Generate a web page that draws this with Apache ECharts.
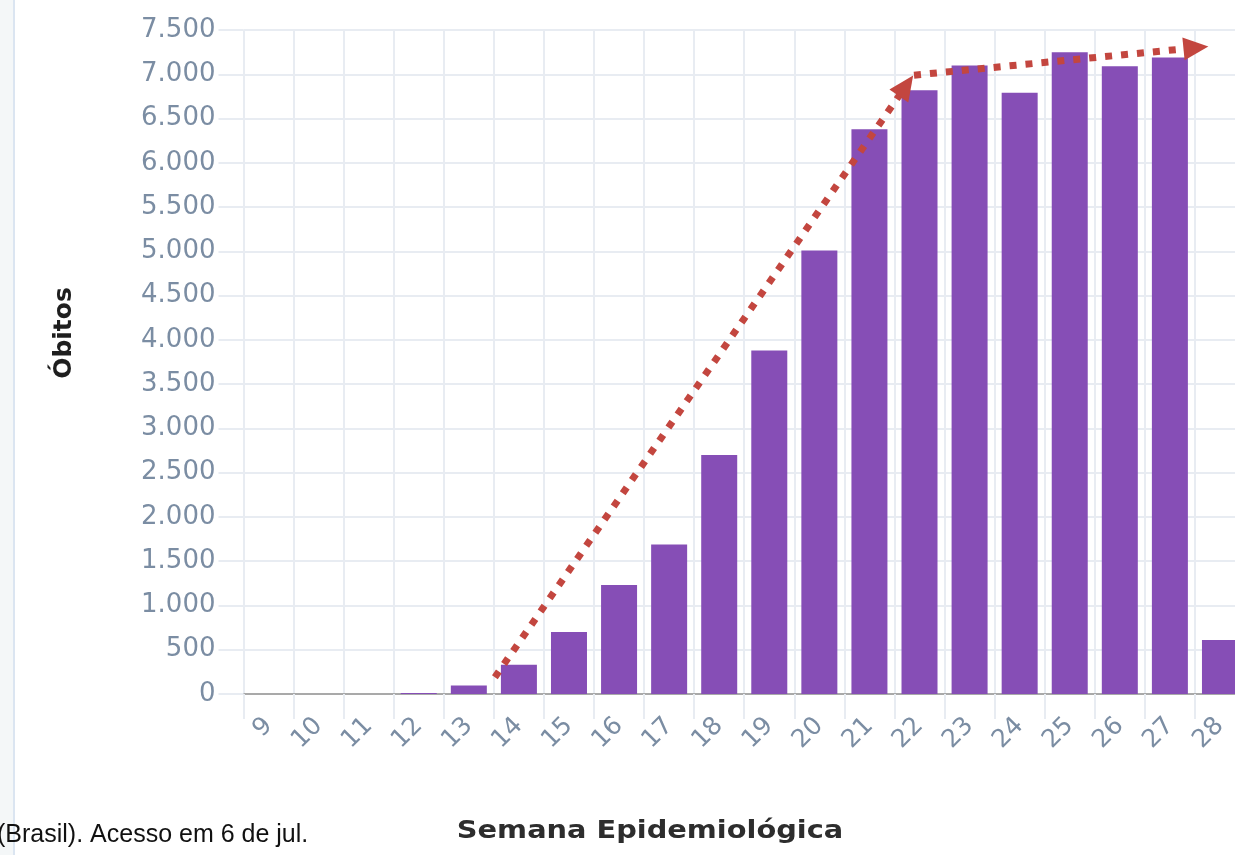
<!DOCTYPE html>
<html>
<head>
<meta charset="utf-8">
<script src="https://cdn.jsdelivr.net/npm/echarts@6/dist/echarts.min.js"></script>
<style>
  html, body { margin: 0; padding: 0; background: #fff; overflow: hidden; }
  #chart { width: 1250px; height: 855px; }
</style>
</head>
<body>
<div id="chart"></div>
<script>
// semanas epidemiológicas e óbitos por semana
var semanas = ['9', '10', '11', '12', '13', '14', '15', '16', '17', '18',
  '19', '20', '21', '22', '23', '24', '25', '26', '27', '28'];
var obitos = [0, 0, 0, 12, 95, 330, 700, 1230, 1690, 2700,
  3880, 5010, 6380, 6820, 7100, 6790, 7250, 7090, 7190, 610];

// setas tracejadas (x em semanas, y em óbitos)
var seta1 = [[13.52, 190], [21.73, 6870]];
var seta2 = [[21.89, 6990], [27.52, 7300]];

// eixo y
var yMax = 7500;
var yStep = 500;

var gridColor = '#e8ecf2';
var labelColor = '#7b8da3';

function fmt(v) {
  return String(v).replace(/\B(?=(\d{3})+(?!\d))/g, '.');
}

var chart = echarts.init(document.getElementById('chart'));

var option = {
  animation: false,
  grid: {
    left: 243.5,
    right: 5,
    top: 30,
    bottom: 161
  },
  xAxis: [
    {
      type: 'category',
      data: semanas,
      boundaryGap: true,
      axisLine: {lineStyle: {color: '#a9a9a9', width: 2}},
      axisTick: {show: true, interval: 0, length: 25, lineStyle: {color: gridColor, width: 2}},
      splitLine: {show: true, interval: 0, lineStyle: {color: gridColor, width: 2}},
      axisLabel: {
        interval: 0,
        rotate: 45,
        margin: 28,
        color: labelColor,
        fontFamily: 'DejaVu Sans',
        fontSize: 25
      }
    },
    {
      type: 'value',
      min: 8.5,
      max: 28.5,
      show: false
    }
  ],
  yAxis: {
    type: 'value',
    min: 0,
    max: yMax,
    interval: yStep,
    axisLine: {show: false},
    axisTick: {show: true, length: 25, lineStyle: {color: gridColor, width: 2}},
    splitLine: {lineStyle: {color: gridColor, width: 2}},
    axisLabel: {
      margin: 28,
      color: labelColor,
      fontFamily: 'DejaVu Sans',
      fontSize: 26,
      formatter: fmt
    }
  },
  series: [
    {
      type: 'bar',
      data: obitos,
      barWidth: 36,
      itemStyle: {color: '#864eb6'}
    },
    {
      type: 'line',
      xAxisIndex: 1,
      data: [],
      markLine: {
        silent: true,
        symbol: ['none', 'triangle'],
        symbolSize: [23, 25],
        label: {show: false},
        lineStyle: {color: '#c3463f', width: 7, type: [7, 9], cap: 'butt'},
        itemStyle: {color: '#c3463f'},
        data: [
          [{coord: seta1[0]}, {coord: seta1[1]}],
          [{coord: seta2[0]}, {coord: seta2[1]}]
        ]
      }
    }
  ],
  graphic: [
    {type: 'rect', left: 0, top: 0, shape: {width: 13, height: 855}, style: {fill: '#f4f7f8'}, z: -1},
    {type: 'rect', left: 13, top: 0, shape: {width: 2, height: 855}, style: {fill: '#dbe5f1'}, z: -1},
    {
      type: 'text',
      x: 64,
      y: 333,
      rotation: Math.PI / 2,
      style: {
        text: 'Óbitos',
        fill: '#1e1e1e',
        font: 'bold 25px "DejaVu Sans"',
        align: 'center',
        verticalAlign: 'middle'
      }
    },
    {
      type: 'text',
      x: 650,
      y: 832,
      scaleX: 1.2,
      style: {
        text: 'Semana Epidemiológica',
        fill: '#2d2d2d',
        font: 'bold 24px "DejaVu Sans"',
        align: 'center',
        verticalAlign: 'middle'
      }
    },
    {
      type: 'text',
      x: -3,
      y: 835,
      style: {
        text: '(Brasil). Acesso em 6 de jul.',
        fill: '#111',
        font: '25px "Liberation Sans"',
        align: 'left',
        verticalAlign: 'middle'
      }
    }
  ]
};

chart.setOption(option);
</script>
</body>
</html>
